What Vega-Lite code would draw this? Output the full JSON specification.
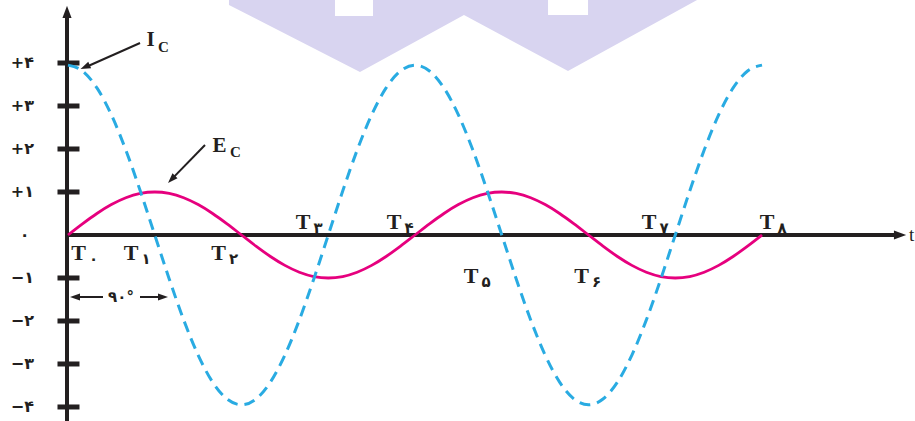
{
  "$schema": "https://vega.github.io/schema/vega-lite/v6.json",
  "width": 915,
  "height": 421,
  "autosize": {"type": "none"},
  "padding": 0,
  "background": "white",
  "config": {"view": {"stroke": null}},
  "datasets": {
    "wave": [
      {"d": 0, "ec": 0, "ic": 3.95},
      {"d": 15, "ec": 0.259, "ic": 3.815},
      {"d": 30, "ec": 0.5, "ic": 3.421},
      {"d": 45, "ec": 0.707, "ic": 2.793},
      {"d": 60, "ec": 0.866, "ic": 1.975},
      {"d": 75, "ec": 0.966, "ic": 1.022},
      {"d": 90, "ec": 1, "ic": 0},
      {"d": 105, "ec": 0.966, "ic": -1.022},
      {"d": 120, "ec": 0.866, "ic": -1.975},
      {"d": 135, "ec": 0.707, "ic": -2.793},
      {"d": 150, "ec": 0.5, "ic": -3.421},
      {"d": 165, "ec": 0.259, "ic": -3.815},
      {"d": 180, "ec": 0, "ic": -3.95},
      {"d": 195, "ec": -0.259, "ic": -3.815},
      {"d": 210, "ec": -0.5, "ic": -3.421},
      {"d": 225, "ec": -0.707, "ic": -2.793},
      {"d": 240, "ec": -0.866, "ic": -1.975},
      {"d": 255, "ec": -0.966, "ic": -1.022},
      {"d": 270, "ec": -1, "ic": 0},
      {"d": 285, "ec": -0.966, "ic": 1.022},
      {"d": 300, "ec": -0.866, "ic": 1.975},
      {"d": 315, "ec": -0.707, "ic": 2.793},
      {"d": 330, "ec": -0.5, "ic": 3.421},
      {"d": 345, "ec": -0.259, "ic": 3.815},
      {"d": 360, "ec": 0, "ic": 3.95},
      {"d": 375, "ec": 0.259, "ic": 3.815},
      {"d": 390, "ec": 0.5, "ic": 3.421},
      {"d": 405, "ec": 0.707, "ic": 2.793},
      {"d": 420, "ec": 0.866, "ic": 1.975},
      {"d": 435, "ec": 0.966, "ic": 1.022},
      {"d": 450, "ec": 1, "ic": 0},
      {"d": 465, "ec": 0.966, "ic": -1.022},
      {"d": 480, "ec": 0.866, "ic": -1.975},
      {"d": 495, "ec": 0.707, "ic": -2.793},
      {"d": 510, "ec": 0.5, "ic": -3.421},
      {"d": 525, "ec": 0.259, "ic": -3.815},
      {"d": 540, "ec": 0, "ic": -3.95},
      {"d": 555, "ec": -0.259, "ic": -3.815},
      {"d": 570, "ec": -0.5, "ic": -3.421},
      {"d": 585, "ec": -0.707, "ic": -2.793},
      {"d": 600, "ec": -0.866, "ic": -1.975},
      {"d": 615, "ec": -0.966, "ic": -1.022},
      {"d": 630, "ec": -1, "ic": 0},
      {"d": 645, "ec": -0.966, "ic": 1.022},
      {"d": 660, "ec": -0.866, "ic": 1.975},
      {"d": 675, "ec": -0.707, "ic": 2.793},
      {"d": 690, "ec": -0.5, "ic": 3.421},
      {"d": 705, "ec": -0.259, "ic": 3.815},
      {"d": 720, "ec": 0, "ic": 3.95}
    ],
    "ylab": [
      {"d": -35.27, "v": 4, "t": "+۴"},
      {"d": -35.27, "v": 3, "t": "+۳"},
      {"d": -35.27, "v": 2, "t": "+۲"},
      {"d": -35.27, "v": 1, "t": "+۱"},
      {"d": -40, "v": 0, "t": "۰"},
      {"d": -35.27, "v": -1, "t": "−۱"},
      {"d": -35.27, "v": -2, "t": "−۲"},
      {"d": -35.27, "v": -3, "t": "−۳"},
      {"d": -35.27, "v": -4, "t": "−۴"}
    ],
    "tlab": [
      {"d": 10.89, "v": -0.581, "m": "T", "s": "۰"},
      {"d": 65.36, "v": -0.581, "m": "T", "s": "۱"},
      {"d": 156.14, "v": -0.581, "m": "T", "s": "۲"},
      {"d": 243.8, "v": 0.14, "m": "T", "s": "۳"},
      {"d": 338.21, "v": 0.14, "m": "T", "s": "۴"},
      {"d": 418.1, "v": -1.116, "m": "T", "s": "۵"},
      {"d": 532.74, "v": -1.116, "m": "T", "s": "۶"},
      {"d": 602.77, "v": 0.14, "m": "T", "s": "۷"},
      {"d": 725.18, "v": 0.14, "m": "T", "s": "۸"}
    ]
  },
  "encoding": {
    "x": {"field": "d", "type": "quantitative", "scale": {"domain": [-70.55, 878.7], "zero": false, "nice": false}, "axis": null},
    "y": {"field": "v", "type": "quantitative", "scale": {"domain": [-4.326, 5.465], "zero": false, "nice": false}, "axis": null}
  },
  "layer": [
    {
      "data": {"values": [
        {"d": 167.0, "v": 5.349},
        {"d": 302.9, "v": 3.791},
        {"d": 410.8, "v": 5.116},
        {"d": 518.7, "v": 3.814},
        {"d": 652.6, "v": 5.465}
      ]},
      "mark": {"type": "area", "color": "#d8d4f0", "interpolate": "linear"},
      "encoding": {"y2": {"datum": 5.7}}
    },
    {
      "data": {"values": [
        {"d": 277.0, "d2": 316.4, "v": 5.093},
        {"d": 498.0, "d2": 539.5, "v": 5.116}
      ]},
      "mark": {"type": "rect", "color": "white"},
      "encoding": {"x2": {"field": "d2"}, "y2": {"datum": 5.7}}
    },
    {
      "data": {"values": [
        {"d": 0.5, "v": 4}, {"d": 0.5, "v": 3}, {"d": 0.5, "v": 2}, {"d": 0.5, "v": 1},
        {"d": 0.5, "v": -1}, {"d": 0.5, "v": -2}, {"d": 0.5, "v": -3}, {"d": 0.5, "v": -4}
      ]},
      "mark": {"type": "tick", "orient": "horizontal", "color": "#231f20", "size": 22, "thickness": 5, "opacity": 1}
    },
    {
      "data": {"values": [
        {"d": -1.04, "v": -4.6, "d2": -1.04, "v2": 5.1},
        {"d": -1.04, "v": 0, "d2": 862, "v2": 0}
      ]},
      "mark": {"type": "rule", "color": "#231f20", "strokeWidth": 4},
      "encoding": {"x2": {"field": "d2"}, "y2": {"field": "v2"}}
    },
    {
      "data": {"values": [{"d": -1.04, "v": 5.186}]},
      "mark": {"type": "point", "shape": "M0,-1L0.75,1L-0.75,1Z", "filled": true, "color": "#231f20", "opacity": 1, "size": 150, "angle": 0}
    },
    {
      "data": {"values": [{"d": 863.2, "v": 0}]},
      "mark": {"type": "point", "shape": "M0,-1L0.75,1L-0.75,1Z", "filled": true, "color": "#231f20", "opacity": 1, "size": 150, "angle": 90}
    },
    {
      "data": {"values": [{"d": 872.5, "v": 0, "t": "t"}]},
      "mark": {"type": "text", "align": "left", "baseline": "middle", "font": "Liberation Serif", "fontSize": 19, "color": "#231f20"},
      "encoding": {"text": {"field": "t"}}
    },
    {
      "data": {"name": "ylab"},
      "mark": {"type": "text", "align": "right", "baseline": "middle", "font": "DejaVu Sans", "fontWeight": "bold", "fontSize": 16, "color": "#231f20"},
      "encoding": {"text": {"field": "t"}}
    },
    {
      "data": {"values": [
        {"d": 74.7, "v": 4.465, "d2": 18.67, "v2": 3.907},
        {"d": 142.13, "v": 2.093, "d2": 107.38, "v2": 1.293},
        {"d": 7.26, "v": -1.442, "d2": 36.31, "v2": -1.442},
        {"d": 74.7, "v": -1.442, "d2": 98.56, "v2": -1.442}
      ]},
      "mark": {"type": "rule", "color": "#231f20", "strokeWidth": 2},
      "encoding": {"x2": {"field": "d2"}, "y2": {"field": "v2"}}
    },
    {
      "data": {"values": [{"d": 17.74, "v": 3.907}]},
      "mark": {"type": "point", "shape": "M0,-1L0.7,1L-0.7,1Z", "filled": true, "color": "#231f20", "opacity": 1, "size": 100, "angle": 246.4}
    },
    {
      "data": {"values": [{"d": 107.38, "v": 1.293}]},
      "mark": {"type": "point", "shape": "M0,-1L0.7,1L-0.7,1Z", "filled": true, "color": "#231f20", "opacity": 1, "size": 100, "angle": 224.2}
    },
    {
      "data": {"values": [{"d": 7.26, "v": -1.442}]},
      "mark": {"type": "point", "shape": "M0,-1L0.7,1L-0.7,1Z", "filled": true, "color": "#231f20", "opacity": 1, "size": 100, "angle": 270}
    },
    {
      "data": {"values": [{"d": 98.56, "v": -1.442}]},
      "mark": {"type": "point", "shape": "M0,-1L0.7,1L-0.7,1Z", "filled": true, "color": "#231f20", "opacity": 1, "size": 100, "angle": 90}
    },
    {
      "data": {"values": [{"d": 55.0, "v": -1.442, "t": "۹۰°"}]},
      "mark": {"type": "text", "align": "center", "baseline": "middle", "font": "DejaVu Sans", "fontWeight": "bold", "fontSize": 15, "color": "#231f20"},
      "encoding": {"text": {"field": "t"}}
    },
    {
      "data": {"name": "wave"},
      "mark": {"type": "line", "color": "#e6007e", "strokeWidth": 2.8, "interpolate": "monotone"},
      "encoding": {"y": {"field": "ec", "type": "quantitative"}}
    },
    {
      "data": {"name": "wave"},
      "mark": {"type": "line", "color": "#29abe2", "strokeWidth": 3, "strokeDash": [11, 7], "interpolate": "monotone"},
      "encoding": {"y": {"field": "ic", "type": "quantitative"}}
    },
    {
      "data": {"name": "tlab"},
      "mark": {"type": "text", "align": "center", "baseline": "alphabetic", "font": "Liberation Serif", "fontWeight": "bold", "fontSize": 22, "color": "#231f20"},
      "encoding": {"text": {"field": "m"}}
    },
    {
      "data": {"name": "tlab"},
      "mark": {"type": "text", "align": "center", "baseline": "alphabetic", "font": "DejaVu Sans", "fontWeight": "bold", "fontSize": 15, "color": "#231f20", "dx": 15, "dy": 4},
      "encoding": {"text": {"field": "s"}}
    },
    {
      "data": {"values": [
        {"d": 85.59, "v": 4.395, "t": "I"},
        {"d": 157.18, "v": 1.93, "t": "E"}
      ]},
      "mark": {"type": "text", "align": "center", "baseline": "alphabetic", "font": "Liberation Serif", "fontWeight": "bold", "fontSize": 21, "color": "#231f20"},
      "encoding": {"text": {"field": "t"}}
    },
    {
      "data": {"values": [
        {"d": 99.08, "v": 4.256, "t": "C"},
        {"d": 173.78, "v": 1.814, "t": "C"}
      ]},
      "mark": {"type": "text", "align": "center", "baseline": "alphabetic", "font": "Liberation Serif", "fontWeight": "bold", "fontSize": 15, "color": "#231f20"},
      "encoding": {"text": {"field": "t"}}
    }
  ]
}
